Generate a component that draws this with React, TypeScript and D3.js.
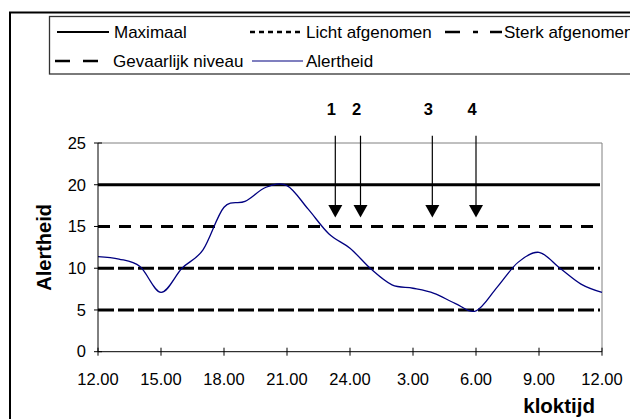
import React from "react";
import * as d3 from "d3";

const hours = [0, 1, 2, 3, 4, 5, 6, 7, 8, 9, 10, 11, 12, 13, 14, 15, 16, 17, 18, 19, 20, 21, 22, 23, 24];
const alertheid = [11.4, 11.1, 10.2, 7.1, 10.0, 12.2, 17.3, 18.0, 19.7, 19.9, 17.1, 14.1, 12.4, 9.9, 8.0, 7.6, 7.0, 5.8, 4.9, 7.7, 10.7, 11.9, 10.0, 8.1, 7.1];

const xTickHours = [0, 3, 6, 9, 12, 15, 18, 21, 24];
const xTickLabels = ["12.00", "15.00", "18.00", "21.00", "24.00", "3.00", "6.00", "9.00", "12.00"];
const yTicks = [0, 5, 10, 15, 20, 25];

const levelNames = ["Maximaal", "Licht afgenomen", "Sterk afgenomen", "Gevaarlijk niveau"];
const levelValues = [20, 15, 10, 5];
const levelDash = ["none", "12 9", "16 4", "16 4"];

const arrowLabels = ["1", "2", "3", "4"];
const arrowTimes = [11.3, 12.5, 15.92, 18.0];

const FONT = "'Liberation Sans', Arial, sans-serif";

export default function App() {
  const x = d3.scaleLinear().domain([0, 24]).range([98, 602]);
  const y = d3.scaleLinear().domain([0, 25]).range([351.7, 143]);
  const line = d3
    .line<number>()
    .x((_, i) => x(hours[i]))
    .y((d) => y(d))
    .curve(d3.curveCatmullRom.alpha(0));
  const path = line(alertheid) || "";

  const legendItems = [
    { name: levelNames[0], lx: 57, ly: 32, len: 52, dash: "none", color: "#000", w: 2, tx: 114 },
    { name: levelNames[1], lx: 250, ly: 32, len: 53, dash: "5 4", color: "#000", w: 2.5, tx: 306 },
    { name: levelNames[2], lx: 445, ly: 32, len: 57, dash: "15 13 5 12 12", color: "#000", w: 2.5, tx: 504 },
    { name: levelNames[3], lx: 55, ly: 61, len: 48, dash: "15 13", color: "#000", w: 2.5, tx: 113 },
    { name: "Alertheid", lx: 252, ly: 61, len: 51, dash: "none", color: "#000080", w: 1.2, tx: 306 },
  ];

  return (
    <svg
      width={630}
      height={419}
      style={{ position: "absolute", left: 0, top: 0, background: "#fff" }}
      fontFamily={FONT}
    >
      <rect x={0} y={0} width={630} height={419} fill="#fff" />
      {/* outer chart border */}
      <rect x={10} y={12.5} width={700} height={500} fill="none" stroke="#000" strokeWidth={2} />
      {/* legend box */}
      <rect x={49.5} y={16.5} width={700} height={57.5} fill="#fff" stroke="#333" strokeWidth={1.3} />
      {legendItems.map((it, i) => (
        <g key={i}>
          <line
            x1={it.lx}
            x2={it.lx + it.len}
            y1={it.ly}
            y2={it.ly}
            stroke={it.color}
            strokeWidth={it.w}
            strokeDasharray={it.dash}
          />
          <text x={it.tx} y={it.ly} dy="0.35em" fontSize={17} fill="#000">
            {it.name}
          </text>
        </g>
      ))}

      {/* plot frame */}
      <line x1={x(0)} x2={x(24)} y1={y(25)} y2={y(25)} stroke="#808080" strokeWidth={1} />
      <line x1={x(24)} x2={x(24)} y1={y(25)} y2={y(0)} stroke="#808080" strokeWidth={1} />

      {/* level lines */}
      {levelValues.map((v, i) => (
        <line
          key={i}
          x1={x(0)}
          x2={x(24) - 2}
          y1={y(v)}
          y2={y(v)}
          stroke="#000"
          strokeWidth={3}
          strokeDasharray={levelDash[i]}
        />
      ))}

      {/* alertheid curve */}
      <path d={path} fill="none" stroke="#000080" strokeWidth={1.3} />

      {/* axes */}
      <line x1={x(0)} x2={x(0)} y1={y(25)} y2={y(0)} stroke="#000" strokeWidth={1} />
      <line x1={x(0)} x2={x(24)} y1={y(0)} y2={y(0)} stroke="#000" strokeWidth={1} />
      {yTicks.map((t) => (
        <g key={"y" + t}>
          <line x1={x(0) - 4} x2={x(0) + 4} y1={y(t)} y2={y(t)} stroke="#000" />
          <text x={86} y={y(t)} dy="0.35em" textAnchor="end" fontSize={16.5} fill="#000">
            {t}
          </text>
        </g>
      ))}
      {xTickHours.map((h, i) => (
        <g key={"x" + i}>
          <line x1={x(h)} x2={x(h)} y1={y(0) - 4} y2={y(0) + 4} stroke="#000" />
          <text x={x(h)} y={385} textAnchor="middle" fontSize={16.5} fill="#000">
            {xTickLabels[i]}
          </text>
        </g>
      ))}

      {/* axis titles */}
      <text
        transform={`translate(51,${(y(0) + y(25)) / 2}) rotate(-90)`}
        textAnchor="middle"
        fontSize={20}
        fontWeight="bold"
        fill="#000"
      >
        Alertheid
      </text>
      <text x={595} y={413} textAnchor="end" fontSize={20.5} fontWeight="bold" fill="#000">
        kloktijd
      </text>

      {/* arrows */}
      {arrowTimes.map((t, i) => {
        const ax = x(t);
        return (
          <g key={"a" + i}>
            <line x1={ax} x2={ax} y1={135.7} y2={206} stroke="#000" strokeWidth={1.2} />
            <path d={`M${ax - 7},205 L${ax + 7},205 L${ax},217.5 Z`} fill="#000" />
            <text x={ax - 4} y={115} textAnchor="middle" fontSize={16.5} fontWeight="bold" fill="#000">
              {arrowLabels[i]}
            </text>
          </g>
        );
      })}
    </svg>
  );
}
